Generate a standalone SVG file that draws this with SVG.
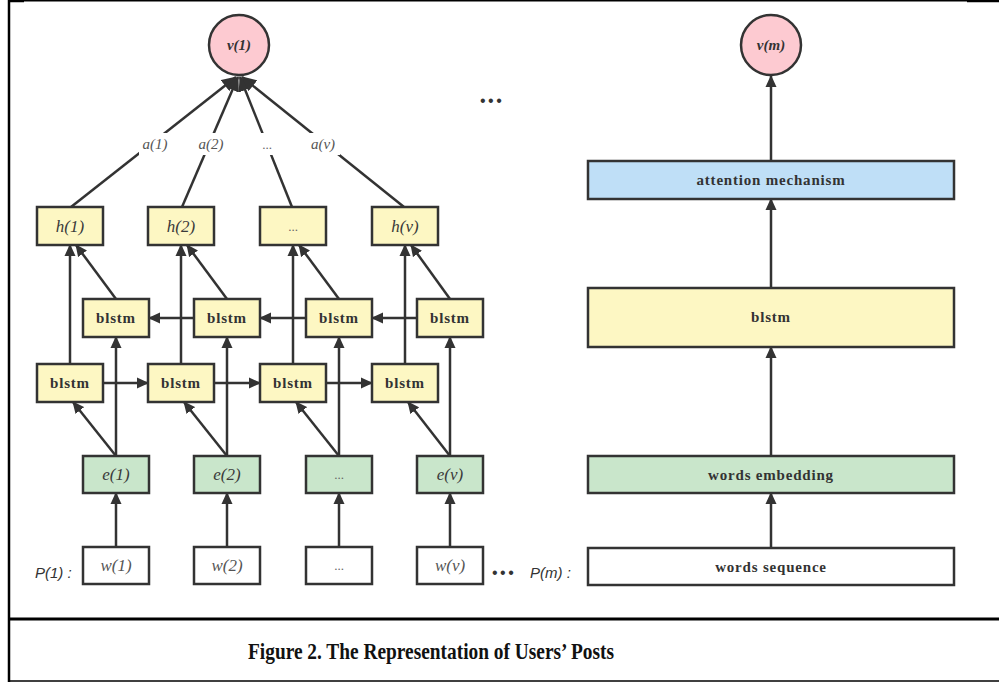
<svg xmlns="http://www.w3.org/2000/svg" width="999" height="682" viewBox="0 0 999 682">
<defs>
<style>
.box{stroke:#333;stroke-width:2.5}
.y{fill:#fdf7c3}
.g{fill:#c9e6cb}
.w{fill:#fff}
.b{fill:#bfdff7}
.p{fill:#fdcad1}
.it{font-family:"Liberation Serif",serif;font-style:italic;font-size:17px;fill:#3a3a3a;text-anchor:middle}
.itw{font-family:"Liberation Serif",serif;font-style:italic;font-size:17px;fill:#555;text-anchor:middle}
.dots{font-family:"Liberation Serif",serif;font-size:13px;fill:#666;text-anchor:middle}
.bd{font-family:"Liberation Serif",serif;font-weight:bold;font-size:15px;letter-spacing:0.8px;fill:#333;text-anchor:middle}
.bi{font-family:"Liberation Serif",serif;font-weight:bold;font-style:italic;font-size:15px;fill:#333;text-anchor:middle}
.lab{font-family:"Liberation Serif",serif;font-style:italic;font-size:15px;fill:#555;text-anchor:middle}
.sans{font-family:"Liberation Sans",sans-serif;font-style:italic;font-size:15px;fill:#333}
.bul{font-family:"Liberation Sans",sans-serif;font-size:16px;fill:#333;letter-spacing:2.5px}
.cap{font-family:"Liberation Serif",serif;font-weight:bold;font-size:23px;fill:#111;text-anchor:middle}
.ln{stroke:#333;stroke-width:2.5;fill:none;marker-end:url(#ah)}
.lnL{stroke:#333;stroke-width:2.5;fill:none;marker-end:url(#ahL)}
</style>
<marker id="ah" viewBox="0 0 12 12" refX="11" refY="6" markerWidth="12" markerHeight="12" markerUnits="userSpaceOnUse" orient="auto">
<path d="M0,0.5 L12,6 L0,11.5 z" fill="#333"/>
</marker>
<marker id="ahL" viewBox="0 0 15 14" refX="14" refY="7" markerWidth="15" markerHeight="14" markerUnits="userSpaceOnUse" orient="auto">
<path d="M0,0 L15,7 L0,14 z" fill="#333"/>
</marker>
</defs>
<rect x="0" y="0" width="999" height="682" fill="#fff"/>
<g id="frame" stroke="#000" fill="none">
<line x1="9" y1="0" x2="9" y2="682" stroke-width="2.5"/>
<line x1="8" y1="0.7" x2="999" y2="0.7" stroke-width="1.5"/>
<line x1="8" y1="1" x2="24" y2="1" stroke-width="2.5"/>
<line x1="967" y1="1" x2="999" y2="1" stroke-width="2.5"/>
<line x1="8" y1="619" x2="999" y2="619" stroke-width="3"/>
<line x1="8" y1="681" x2="999" y2="681" stroke-width="1.5"/>
</g>
<g id="connectors">
<path class="ln" d="M116,547 V493"/>
<path class="ln" d="M227,547 V493"/>
<path class="ln" d="M339,547 V493"/>
<path class="ln" d="M450,547 V493"/>
<path class="ln" d="M116,456 V337"/>
<path class="ln" d="M227,456 V337"/>
<path class="ln" d="M339,456 V337"/>
<path class="ln" d="M450,456 V337"/>
<path class="ln" d="M116,456 L73,402"/>
<path class="ln" d="M227,456 L184,402"/>
<path class="ln" d="M339,456 L296,402"/>
<path class="ln" d="M450,456 L408,402"/>
<path class="ln" d="M70,364 V245"/>
<path class="ln" d="M181,364 V245"/>
<path class="ln" d="M293,364 V245"/>
<path class="ln" d="M405,364 V245"/>
<path class="ln" d="M116,299 L76,245"/>
<path class="ln" d="M227,299 L187,245"/>
<path class="ln" d="M339,299 L299,245"/>
<path class="ln" d="M450,299 L411,245"/>
<path class="ln" d="M103,383 H148"/>
<path class="ln" d="M214,383 H260"/>
<path class="ln" d="M326,383 H372"/>
<path class="ln" d="M194,318 H149"/>
<path class="ln" d="M306,318 H260"/>
<path class="ln" d="M417,318 H372"/>
<path class="lnL" d="M71,207 L236,77"/>
<path class="lnL" d="M182,207 L238,77"/>
<path class="lnL" d="M292,207 L240,77"/>
<path class="lnL" d="M404,207 L242,77"/>
<rect x="139" y="133" width="32" height="22" fill="#fff"/>
<rect x="195" y="133" width="32" height="22" fill="#fff"/>
<rect x="255" y="133" width="24" height="22" fill="#fff"/>
<rect x="306" y="133" width="34" height="22" fill="#fff"/>
<text class="lab" x="155" y="149">a(1)</text>
<text class="lab" x="211" y="149">a(2)</text>
<text class="dots" x="267" y="149">...</text>
<text class="lab" x="323" y="149">a(v)</text>
<path class="ln" d="M771,548 V493"/>
<path class="ln" d="M771,456 V347"/>
<path class="ln" d="M771,288 V199"/>
<path class="ln" d="M771,161 V76"/>
</g>
<g id="v1"><circle class="box p" cx="239" cy="45" r="30"/><text class="bi" x="239" y="50">v(1)</text></g>
<g id="vm"><circle class="box p" cx="771" cy="45" r="30"/><text class="bi" x="771" y="50">v(m)</text></g>
<g id="h1"><rect class="box y" x="37" y="207" width="66" height="38"/><text class="it" x="70" y="232">h(1)</text></g>
<g id="h2"><rect class="box y" x="148" y="207" width="66" height="38"/><text class="it" x="181" y="232">h(2)</text></g>
<g id="h3"><rect class="box y" x="260" y="207" width="66" height="38"/><text class="dots" x="293" y="231">...</text></g>
<g id="hv"><rect class="box y" x="372" y="207" width="66" height="38"/><text class="it" x="405" y="232">h(v)</text></g>
<g id="ub1"><rect class="box y" x="83" y="299" width="66" height="38"/><text class="bd" x="116" y="323">blstm</text></g>
<g id="ub2"><rect class="box y" x="194" y="299" width="66" height="38"/><text class="bd" x="227" y="323">blstm</text></g>
<g id="ub3"><rect class="box y" x="306" y="299" width="66" height="38"/><text class="bd" x="339" y="323">blstm</text></g>
<g id="ub4"><rect class="box y" x="417" y="299" width="66" height="38"/><text class="bd" x="450" y="323">blstm</text></g>
<g id="lb1"><rect class="box y" x="37" y="364" width="66" height="38"/><text class="bd" x="70" y="388">blstm</text></g>
<g id="lb2"><rect class="box y" x="148" y="364" width="66" height="38"/><text class="bd" x="181" y="388">blstm</text></g>
<g id="lb3"><rect class="box y" x="260" y="364" width="66" height="38"/><text class="bd" x="293" y="388">blstm</text></g>
<g id="lb4"><rect class="box y" x="372" y="364" width="66" height="38"/><text class="bd" x="405" y="388">blstm</text></g>
<g id="e1"><rect class="box g" x="83" y="456" width="66" height="37"/><text class="it" x="116" y="480">e(1)</text></g>
<g id="e2"><rect class="box g" x="194" y="456" width="66" height="37"/><text class="it" x="227" y="480">e(2)</text></g>
<g id="e3"><rect class="box g" x="306" y="456" width="66" height="37"/><text class="dots" x="339" y="479">...</text></g>
<g id="ev"><rect class="box g" x="417" y="456" width="66" height="37"/><text class="it" x="450" y="480">e(v)</text></g>
<g id="w1"><rect class="box w" x="83" y="547" width="66" height="37"/><text class="itw" x="116" y="571">w(1)</text></g>
<g id="w2"><rect class="box w" x="194" y="547" width="66" height="37"/><text class="itw" x="227" y="571">w(2)</text></g>
<g id="w3"><rect class="box w" x="306" y="547" width="66" height="37"/><text class="dots" x="339" y="570">...</text></g>
<g id="wv"><rect class="box w" x="417" y="547" width="66" height="37"/><text class="itw" x="450" y="571">w(v)</text></g>
<g id="att"><rect class="box b" x="588" y="161" width="366" height="38"/><text class="bd" x="771" y="185">attention mechanism</text></g>
<g id="blstmR"><rect class="box y" x="588" y="288" width="366" height="59"/><text class="bd" x="771" y="322">blstm</text></g>
<g id="emb"><rect class="box g" x="588" y="456" width="366" height="37"/><text class="bd" x="771" y="480">words embedding</text></g>
<g id="seq"><rect class="box w" x="588" y="548" width="366" height="37"/><text class="bd" x="771" y="572">words sequence</text></g>
<g id="labels">
<text class="sans" x="35" y="578">P(1) :</text>
<text class="sans" x="530" y="578">P(m) :</text>
<text class="bul" x="492" y="578">•••</text>
<text class="bul" x="480" y="106">•••</text>
<text class="cap" x="431" y="659" textLength="366" lengthAdjust="spacingAndGlyphs">Figure 2.  The Representation of Users’ Posts</text>
</g>
</svg>
